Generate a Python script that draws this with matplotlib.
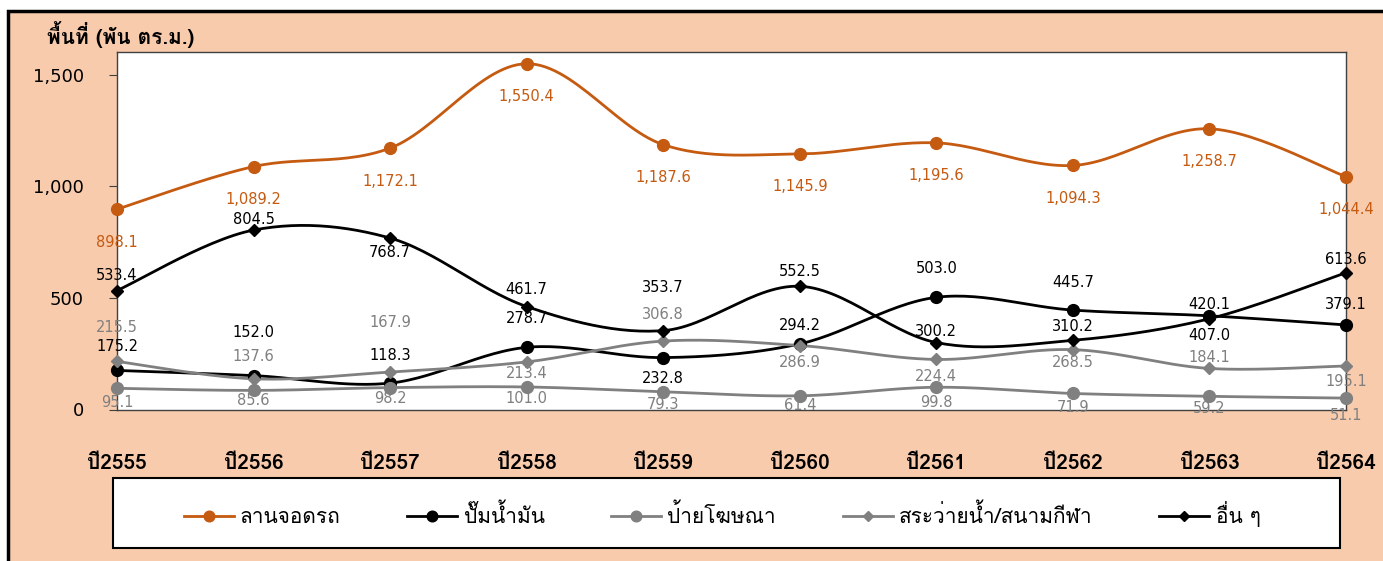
import numpy as np
import matplotlib
matplotlib.use("Agg")
import matplotlib.pyplot as plt
from matplotlib import font_manager as fm
from matplotlib.ft2font import FT2Font
from matplotlib.lines import Line2D
from matplotlib.patches import Rectangle

years = ["ปี2555", "ปี2556", "ปี2557", "ปี2558", "ปี2559",
         "ปี2560", "ปี2561", "ปี2562", "ปี2563", "ปี2564"]

parking = [898.1, 1089.2, 1172.1, 1550.4, 1187.6, 1145.9, 1195.6, 1094.3, 1258.7, 1044.4]
gas = [175.2, 152.0, 118.3, 278.7, 232.8, 294.2, 503.0, 445.7, 420.1, 379.1]
billboard = [95.1, 85.6, 98.2, 101.0, 79.3, 61.4, 99.8, 71.9, 59.2, 51.1]
pool = [215.5, 137.6, 167.9, 213.4, 306.8, 286.9, 224.4, 268.5, 184.1, 195.1]
other = [533.4, 804.5, 768.7, 461.7, 353.7, 552.5, 300.2, 310.2, 407.0, 613.6]

names = ["ลานจอดรถ", "ปั๊มน้ำมัน", "ป้ายโฆษณา", "สระว่ายน้ำ/สนามกีฬา", "อื่น ๆ"]


# find a font that has thai glyphs
def thai_font():
    for f in fm.fontManager.ttflist:
        try:
            if 0x0E01 in FT2Font(f.fname).get_charmap():
                return f.name
        except Exception:
            pass
    return None

tf = thai_font()
fams = [tf, "DejaVu Sans"] if tf else ["DejaVu Sans"]
plt.rcParams["font.family"] = fams


# excel style smoothed line (bezier through the points)
def smooth(y, n=30):
    x = np.arange(len(y), dtype=float)
    p = np.column_stack([x, np.asarray(y, float)])
    ext = np.vstack([p[0], p, p[-1]])
    t = np.linspace(0, 1, n)[:, None]
    out = []
    for i in range(len(p) - 1):
        p0, p1, p2, p3 = ext[i], ext[i + 1], ext[i + 2], ext[i + 3]
        c1 = p1 + (p2 - p0) / 6
        c2 = p2 - (p3 - p1) / 6
        out.append((1 - t)**3 * p1 + 3 * (1 - t)**2 * t * c1 + 3 * (1 - t) * t**2 * c2 + t**3 * p2)
    return np.vstack(out)


fig = plt.figure(figsize=(13.83, 5.61), dpi=100)
fig.patch.set_facecolor("white")
W, H = 1383, 561
fig.patches.append(Rectangle((7.5 / W, -0.1), 1.2, 1.1 - 10.5 / H, transform=fig.transFigure,
                             facecolor="#F8CBAD", edgecolor="black", lw=2.5, zorder=-10))
# legend box
fig.patches.append(Rectangle((113 / W, 1 - 548 / H), (1340 - 113) / W, 70 / H,
                             transform=fig.transFigure, facecolor="white",
                             edgecolor="black", lw=1.5, zorder=-5))

ax = fig.add_axes([117 / W, 1 - 409.5 / H, (1346 - 117) / W, (409.5 - 52) / H])
ax.set_facecolor("white")

orange = "#C55A11"
grey = "#808080"
series = [
    (parking, orange, "o", 8.5, 2.0),
    (gas, "black", "o", 8.5, 2.0),
    (billboard, grey, "o", 8.5, 2.0),
    (pool, grey, "D", 6, 2.0),
    (other, "black", "D", 6, 2.0),
]
label_colors = [orange, "black", grey, grey, "black"]

# label offsets in pixels (positive = below the point)
label_dy = [
    [33] * 10,
    [-24, -43, -28, -29, 21, -18, -29, -28, -11, -20],
    [14, 10, 11, 12, 13, 10, 15, 14, 12, 17],
    [-34, -22, -50, 12, -27, 17, 17, 13, -11, 16],
    [-15, -11, 14, -17, -43, -15, -11, -14, 17, -13],
]

x = np.arange(len(years))
for i, (vals, col, mk, ms, lw) in enumerate(series):
    c = smooth(vals)
    ax.plot(c[:, 0], c[:, 1], color=col, lw=lw, zorder=3, clip_on=False)
    ax.plot(x, vals, ls="none", marker=mk, color=col, ms=ms, zorder=4, clip_on=False)
    for xi, v, dy in zip(x, vals, label_dy[i]):
        ax.annotate(f"{v:,.1f}", (xi, v), xytext=(0, -dy), textcoords="offset pixels",
                    ha="center", va="center", fontsize=10.5, color=label_colors[i],
                    family="DejaVu Sans", zorder=5)

ax.set_xlim(0, len(years) - 1)
ax.set_ylim(0, 1603)
ax.set_yticks([0, 500, 1000, 1500])
ax.set_yticklabels(["0", "500", "1,000", "1,500"], family="DejaVu Sans")
ax.set_xticks(x)
ax.set_xticklabels(years, fontweight="bold")
ax.tick_params(axis="y", length=6, pad=18, labelsize=13, color="#404040")
ax.tick_params(axis="x", length=0, pad=32, labelsize=15)
for s in ax.spines.values():
    s.set_color("#404040")
    s.set_linewidth(1)

fig.text(47 / W, 1 - 35 / H, "พื้นที่ (พัน ตร.ม.)", fontsize=15, fontweight="bold",
         ha="left", va="center")

handles = [Line2D([], [], color=col, marker=mk, ms=ms * 0.9, lw=lw)
           for (vals, col, mk, ms, lw) in series]
leg = fig.legend(handles, names, loc="center", ncol=5,
                 bbox_to_anchor=(722 / W, 1 - 514 / H),
                 fontsize=15, frameon=False,
                 handlelength=2.4, columnspacing=3.2, handletextpad=0.3)

fig.savefig("out.png", dpi=100, facecolor=fig.get_facecolor())
